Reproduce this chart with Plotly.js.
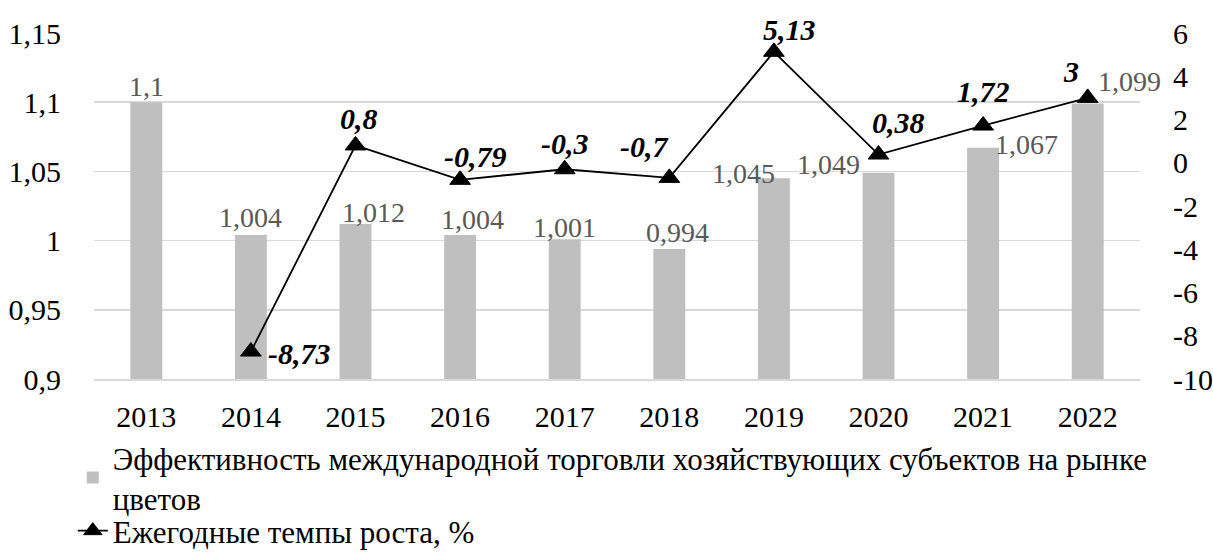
<!DOCTYPE html>
<html>
<head>
<meta charset="utf-8">
<script src="https://cdn.plot.ly/plotly-3.0.1.min.js"></script>
<style>html,body{margin:0;padding:0;background:#fff;}#chart{width:1213px;height:558px;}</style>
</head>
<body>
<div id="chart"></div>
<script>
// ---- data ----
const years = ['2013','2014','2015','2016','2017','2018','2019','2020','2021','2022'];
const efficiency = [1.1, 1.004, 1.012, 1.004, 1.001, 0.994, 1.045, 1.049, 1.067, 1.099];
const efficiencyLabels = ['1,1','1,004','1,012','1,004','1,001','0,994','1,045','1,049','1,067','1,099'];
const growth = [null, -8.73, 0.8, -0.79, -0.3, -0.7, 5.13, 0.38, 1.72, 3];
const growthLabels = [null,'-8,73','0,8','-0,79','-0,3','-0,7','5,13','0,38','1,72','3'];
const leftTickVals = [0.9, 0.95, 1, 1.05, 1.1, 1.15];
const leftTickText = ['0,9','0,95','1','1,05','1,1','1,15'];
const rightTickVals = [-10,-8,-6,-4,-2,0,2,4,6];
const rightTickText = ['-10','-8','-6','-4','-2','0','2','4','6'];
const seriesNames = ['Эффективность международной торговли хозяйствующих субъектов на рынке<br>цветов','Ежегодные темпы роста, %'];

// ---- label placement (pixels, styling only) ----
const barLabelShift = [[0,-16],[0,-18],[18,-11],[12,-16],[0,-12],[8,-16],[-30,-5],[-50,-8],[43,-3],[42,-22]];
const lineLabelShift = [null,[49,2],[3,-27],[15,-23],[0,-26],[-25,-31],[16,-22],[20,-32],[0,-34],[-17,-26]];

const FONT = 'Liberation Serif, Times New Roman, serif';

const annotations = [];
years.forEach((yr,i)=>{
  annotations.push({x: i, y: efficiency[i], xref:'x', yref:'y', text: efficiencyLabels[i], showarrow:false,
    xanchor:'center', yanchor:'middle', xshift: barLabelShift[i][0], yshift: -barLabelShift[i][1],
    font:{family:FONT, size:28, color:'#595959'}});
  if (growth[i] !== null) {
    annotations.push({x: i, y: growth[i], xref:'x', yref:'y2', text: growthLabels[i], showarrow:false,
      xanchor:'center', yanchor:'middle', xshift: lineLabelShift[i][0], yshift: -lineLabelShift[i][1],
      font:{family:FONT, size:30, color:'#000', weight:'bold', style:'italic'}});
  }
});

const traces = [
  {type:'bar', x: years, y: efficiency, name: seriesNames[0], marker:{color:'#BFBFBF'}, yaxis:'y', hoverinfo:'skip', legend:'legend'},
  {type:'scatter', mode:'lines+markers', x: years, y: growth, name: seriesNames[1], yaxis:'y2', legend:'legend2',
   line:{color:'#000', width:1.8}, marker:{symbol:'triangle-up', size:18, color:'#000', line:{color:'#000', width:1}}, hoverinfo:'skip', connectgaps:false}
];

const legendFont = {family:FONT, size:31, color:'#000'};
const layout = {
  width:1213, height:558,
  margin:{l:94, r:73, t:33, b:179, autoexpand:false},
  paper_bgcolor:'#fff', plot_bgcolor:'#fff',
  font:{family:FONT, size:30, color:'#000'},
  bargap:0.695,
  showlegend:true,
  legend:{orientation:'v', xref:'container', yref:'container', x:0.06, xanchor:'left', y:0.228, yanchor:'top',
    font:legendFont, bgcolor:'rgba(0,0,0,0)', tracegroupgap:0, itemgap:0},
  legend2:{orientation:'v', xref:'container', yref:'container', x:0.06, xanchor:'left', y:0, yanchor:'bottom',
    font:legendFont, bgcolor:'rgba(0,0,0,0)', tracegroupgap:0, itemgap:0},
  xaxis:{type:'category', range:[-0.5, 9.5], autorange:false, showgrid:false, showline:true, linecolor:'#D9D9D9', linewidth:1.5, zeroline:false,
    ticks:'outside', ticklen:10, tickcolor:'rgba(0,0,0,0)', tickfont:{family:FONT, size:30, color:'#000'}},
  yaxis:{range:[0.9,1.15], tickvals:leftTickVals, ticktext:leftTickText, showgrid:true, gridcolor:'#D9D9D9', gridwidth:1.5,
    zeroline:false, showline:false, ticks:'outside', ticklen:26, tickcolor:'rgba(0,0,0,0)',
    tickfont:{family:FONT, size:30, color:'#000'}},
  yaxis2:{range:[-10,6], overlaying:'y', side:'right', tickvals:rightTickVals, ticktext:rightTickText, showgrid:false,
    zeroline:false, showline:false, ticks:'outside', ticklen:26, tickcolor:'rgba(0,0,0,0)',
    tickfont:{family:FONT, size:30, color:'#000'}},
  annotations: annotations
};

Plotly.newPlot('chart', traces, layout, {displayModeBar:false, staticPlot:true});
</script>
</body>
</html>
